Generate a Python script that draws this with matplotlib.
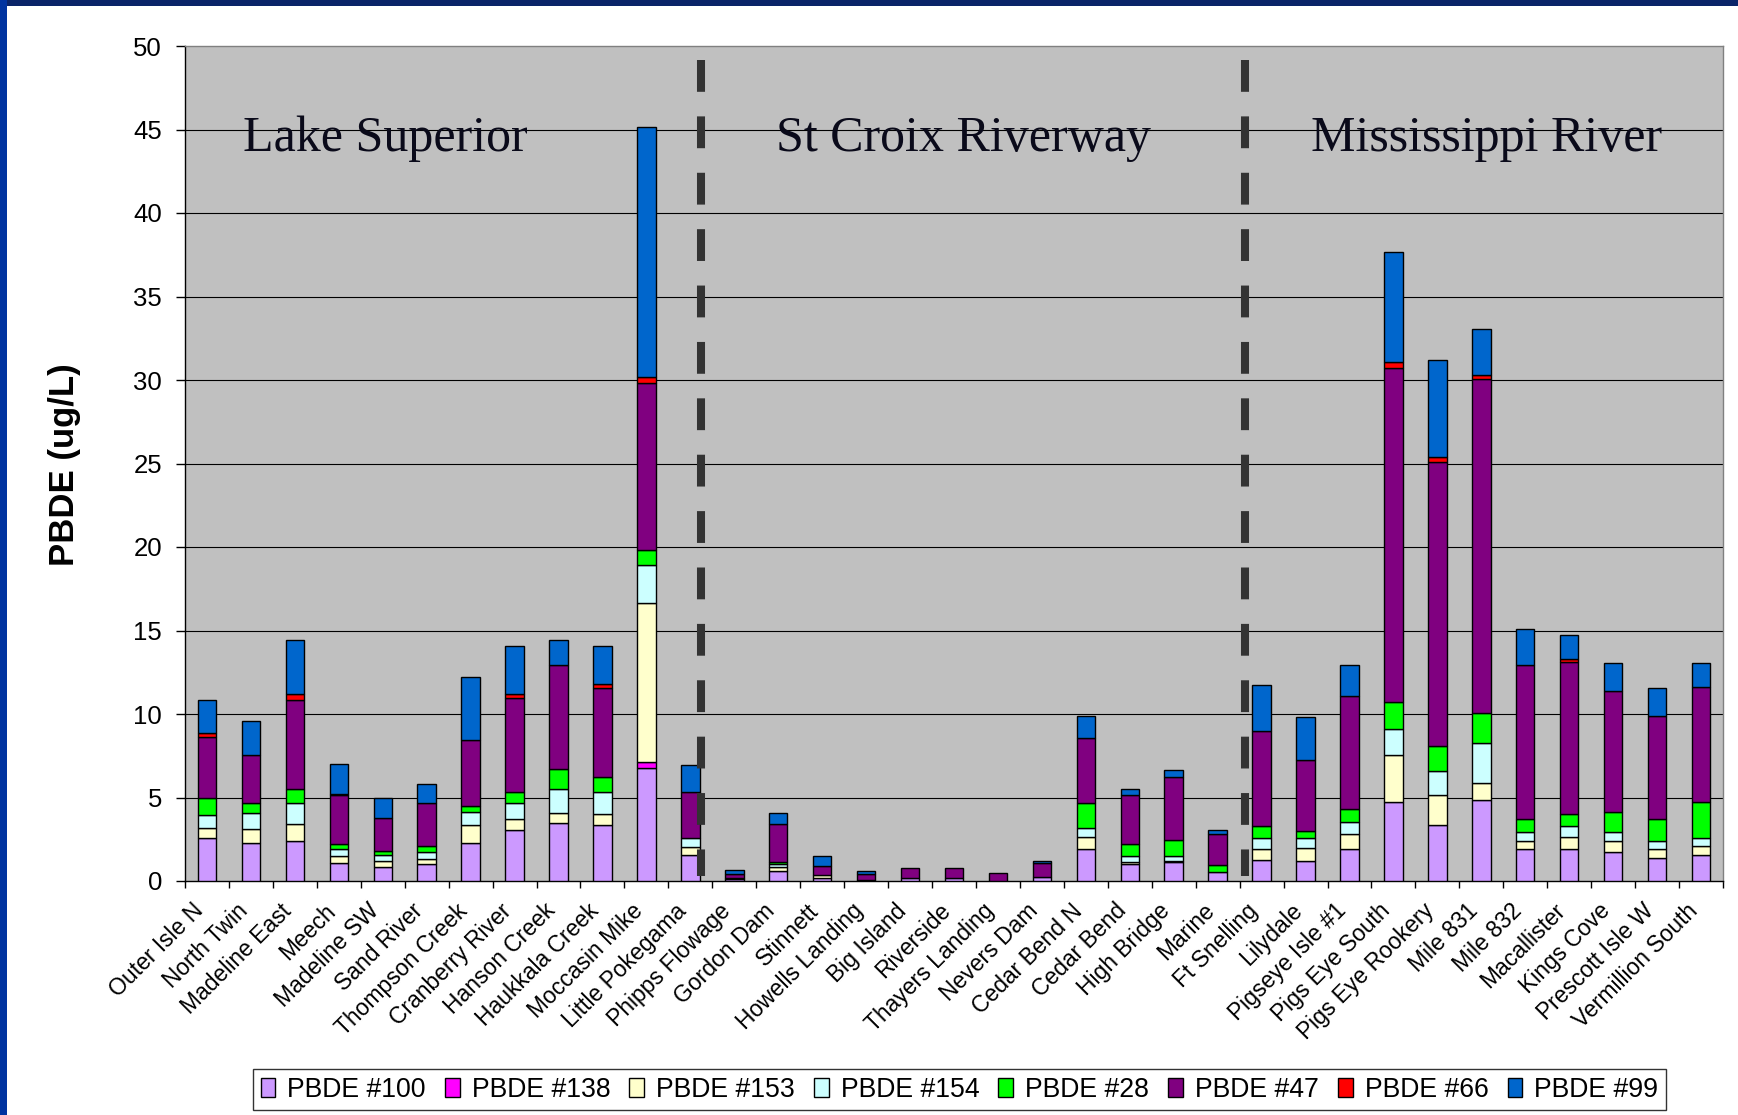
import numpy as np
import matplotlib
matplotlib.use("Agg")
import matplotlib.pyplot as plt
import matplotlib.transforms as mtransforms
from matplotlib.patches import Rectangle

categories = ["Outer Isle N", "North Twin", "Madeline East", "Meech", "Madeline SW",
              "Sand River", "Thompson Creek", "Cranberry River", "Hanson Creek",
              "Haukkala Creek", "Moccasin Mike", "Little Pokegama", "Phipps Flowage",
              "Gordon Dam", "Stinnett", "Howells Landing", "Big Island", "Riverside",
              "Thayers Landing", "Nevers Dam", "Cedar Bend N", "Cedar Bend", "High Bridge",
              "Marine", "Ft Snelling", "Lilydale", "Pigseye Isle #1", "Pigs Eye South",
              "Pigs Eye Rookery", "Mile 831", "Mile 832", "Macallister", "Kings Cove",
              "Prescott Isle W", "Vermillion South"]

series_names = ["PBDE #100", "PBDE #138", "PBDE #153", "PBDE #154",
                "PBDE #28", "PBDE #47", "PBDE #66", "PBDE #99"]

pbde100 = [2.58, 2.30, 2.38, 1.08, 0.82, 1.00, 2.28, 3.04, 3.46, 3.38, 6.76, 1.56,
           0.10, 0.62, 0.20, 0.04, 0.20, 0.20, 0.00, 0.26, 1.94, 1.00, 1.12, 0.56,
           1.26, 1.18, 1.92, 4.76, 3.38, 4.86, 1.92, 1.92, 1.72, 1.38, 1.54]
pbde138 = [0, 0, 0, 0, 0, 0, 0, 0, 0, 0, 0.38, 0,
           0, 0, 0, 0, 0, 0, 0, 0, 0, 0, 0, 0,
           0, 0, 0, 0, 0, 0, 0, 0, 0, 0, 0]
pbde153 = [0.62, 0.82, 1.02, 0.42, 0.40, 0.30, 1.10, 0.70, 0.60, 0.66, 9.53, 0.46,
           0.10, 0.24, 0.16, 0, 0, 0, 0, 0, 0.70, 0.12, 0.10, 0,
           0.68, 0.82, 0.90, 2.76, 1.76, 1.02, 0.50, 0.72, 0.66, 0.54, 0.54]
pbde154 = [0.76, 0.94, 1.30, 0.44, 0.32, 0.46, 0.76, 0.96, 1.44, 1.30, 2.23, 0.58,
           0, 0.14, 0, 0, 0, 0, 0, 0, 0.56, 0.36, 0.26, 0,
           0.64, 0.56, 0.74, 1.56, 1.46, 2.36, 0.52, 0.66, 0.56, 0.48, 0.48]
pbde28 = [1.00, 0.64, 0.80, 0.26, 0.28, 0.34, 0.36, 0.60, 1.18, 0.90, 0.92, 0,
          0, 0.16, 0, 0, 0, 0, 0, 0, 1.50, 0.72, 1.00, 0.42,
          0.72, 0.46, 0.74, 1.66, 1.46, 1.84, 0.80, 0.74, 1.20, 1.34, 2.20]
pbde47 = [3.66, 2.84, 5.34, 2.96, 1.94, 2.60, 3.94, 5.64, 6.26, 5.32, 9.98, 2.72,
          0.24, 2.24, 0.54, 0.36, 0.56, 0.56, 0.46, 0.80, 3.84, 2.94, 3.76, 1.86,
          5.70, 4.22, 6.80, 19.98, 17.05, 20.00, 9.22, 9.08, 7.26, 6.16, 6.88]
pbde66 = [0.22, 0, 0.38, 0.05, 0, 0, 0, 0.28, 0, 0.22, 0.38, 0,
          0, 0, 0, 0, 0, 0, 0, 0, 0, 0, 0, 0,
          0, 0, 0, 0.38, 0.28, 0.20, 0, 0.20, 0, 0, 0]
pbde99 = [2.02, 2.02, 3.22, 1.78, 1.22, 1.10, 3.78, 2.84, 1.50, 2.28, 14.95, 1.62,
          0.24, 0.66, 0.58, 0.20, 0, 0, 0, 0.12, 1.32, 0.38, 0.38, 0.22,
          2.76, 2.60, 1.86, 6.58, 5.81, 2.75, 2.12, 1.40, 1.66, 1.68, 1.42]

regions = ["Lake Superior", "St Croix Riverway", "Mississippi River"]
region_x = [4.05, 17.22, 29.13]
divider_x = [11.24, 23.62]
y_ticks = [0, 5, 10, 15, 20, 25, 30, 35, 40, 45, 50]

colors = ["#CC99FF", "#FF00FF", "#FFFFCC", "#CCFFFF",
          "#00FF00", "#800080", "#FF0000", "#0066CC"]

series = [pbde100, pbde138, pbde153, pbde154, pbde28, pbde47, pbde66, pbde99]

W, H = 1738, 1115
fig = plt.figure(figsize=(W / 100, H / 100), dpi=100)
fig.patch.set_facecolor("white")

# navy border (top & left)
fig.patches.append(Rectangle((0, 1 - 6 / H), 1, 6 / H, transform=fig.transFigure,
                             facecolor="#0A2468", edgecolor="none", zorder=0))
fig.patches.append(Rectangle((0, 0), 7 / W, 1, transform=fig.transFigure,
                             facecolor="#0033A0", edgecolor="none", zorder=0))

ax = fig.add_axes([185 / W, 1 - 881 / H, (1723 - 185) / W, (881 - 46) / H])
ax.set_facecolor("#C0C0C0")

x = np.arange(len(categories))
bottom = np.zeros(len(categories))
handles = []
for name, vals, col in zip(series_names, series, colors):
    v = np.array(vals, dtype=float)
    lw = np.where(v > 0, 1.0, 0.0)
    ax.bar(x, v, width=0.42, bottom=bottom, color=col, edgecolor="black",
           linewidth=lw, label=name, zorder=3)
    handles.append(Rectangle((0, 0), 1, 1, facecolor=col, edgecolor="black", linewidth=1.0))
    bottom += v

ax.set_xlim(-0.5, len(categories) - 0.5)
ax.set_ylim(0, 50)

# gridlines
for yv in y_ticks[1:-1]:
    ax.axhline(yv, color="black", linewidth=0.8, zorder=1)

# dashed dividers
for dx in divider_x:
    ax.plot([dx, dx], [49.16, 0.3], color="#333333", linewidth=5.8,
            dashes=(3.95, 3.05), solid_capstyle="butt", dash_capstyle="butt", zorder=4)

# region labels
for name, rx in zip(regions, region_x):
    ax.text(rx, 43.73, name, ha="center", va="baseline", fontsize=36,
            family="Liberation Serif", color="#0A0A1A", zorder=5)

# spines
ax.spines["left"].set_color("black")
ax.spines["bottom"].set_color("black")
ax.spines["top"].set_color("#808080")
ax.spines["right"].set_color("#808080")
for s in ax.spines.values():
    s.set_linewidth(1.0)

ax.set_yticks(y_ticks)
ax.set_yticklabels([str(t) for t in y_ticks], fontsize=18.5, family="Liberation Sans")
ax.tick_params(axis="y", length=6.5, width=1.0, pad=10, color="black")

ax.set_xticks(x)
ax.set_xticklabels(categories, rotation=45, ha="right", va="center",
                   rotation_mode="anchor", fontsize=16.5, family="Liberation Sans")
ax.tick_params(axis="x", which="major", length=0, pad=19)
offset = mtransforms.ScaledTranslation(-7 / 100, 0, fig.dpi_scale_trans)
for lab in ax.get_xticklabels():
    lab.set_transform(lab.get_transform() + offset)
ax.set_xticks(np.arange(-0.5, len(categories), 1), minor=True)
ax.tick_params(axis="x", which="minor", length=5, width=1.0, color="black")

fig.text(64.5 / W, 1 - 465 / H, "PBDE (ug/L)", rotation=90, ha="center", va="center",
         fontsize=25, fontweight="bold", family="Liberation Sans")

leg = fig.legend(handles, series_names, loc="center", bbox_to_anchor=(0.552, 0.0225),
                 ncol=8, frameon=True, fancybox=False,
                 prop={"family": "Liberation Sans", "size": 19.2},
                 handlelength=0.55, handleheight=0.75, handletextpad=0.45,
                 columnspacing=0.72, borderpad=0.28, borderaxespad=0)
leg.get_frame().set_edgecolor("black")
leg.get_frame().set_linewidth(1.0)

fig.savefig("out.png", dpi=100, facecolor="white")
